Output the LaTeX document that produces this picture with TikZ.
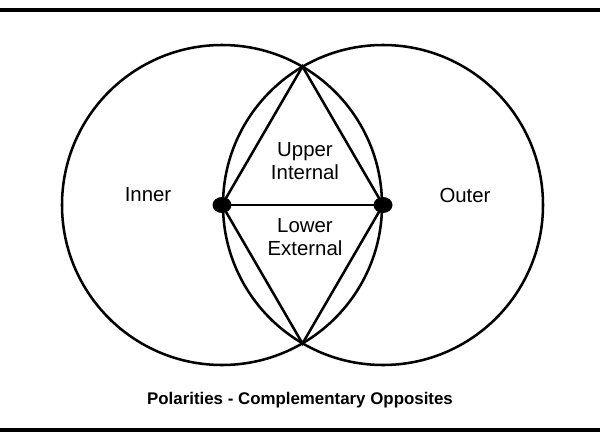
\documentclass[tikz,border=0pt]{standalone}
\usepackage{fontspec}
\setmainfont{Liberation Sans}
\usetikzlibrary{shapes.geometric}
\begin{document}
\begin{tikzpicture}[x=0.025cm,y=-0.025cm,line width=1.8pt,
    lbl/.style={font=\fontsize{14.5}{16.5}\selectfont,align=center},
    pole/.style={ellipse,fill,inner sep=0pt,minimum width=19*0.025cm,minimum height=16*0.025cm}]
  \useasboundingbox (0,0) rectangle (600,441);
  \draw[line width=2.2pt] (0,10) -- (600,10);
  \draw[line width=2.2pt] (0,430) -- (600,430);
  % two circles
  \draw (222,205) circle (160);
  \draw (383,205) circle (160);
  \coordinate (top) at (302.5,66.5);
  \coordinate (bot) at (302.5,343.5);
  \node[pole] (inner) at (222,205) {};
  \node[pole] (outer) at (383,205) {};
  \draw (inner.center) -- (top) -- (outer.center) -- (bot) -- cycle;
  \draw (inner.center) -- (outer.center);
  \node[lbl] (lin) at (148,195) {Inner};
  \node[lbl] (lout) at (465,195) {Outer};
  \node[lbl] (up) at (305,161) {Upper\\Internal};
  \node[lbl] (lo) at (305,237) {Lower\\External};
  \node[font=\bfseries\fontsize{12}{14}\selectfont] (title) at (300,400) {Polarities - Complementary Opposites};
\end{tikzpicture}
\end{document}
